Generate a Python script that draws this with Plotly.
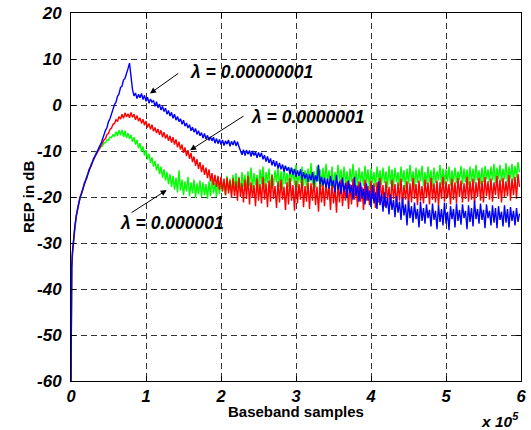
import numpy as np
import plotly.graph_objects as go

# Sample positions (x 10^5): fine grid for the initial rise, then a regular grid
x_early = [0, 0, 0.01, 0.02, 0.03, 0.05, 0.07, 0.09, 0.12, 0.15, 0.18, 0.21, 0.24, 0.27, 0.30, 0.34]
x_main = list(np.round(np.arange(0.38, 5.99, 0.02), 2))
x_vals = x_early + x_main

# REP in dB
rep_1e8 = [  # blue, lambda = 0.00000001
    -60, -40, -35, -32, -30, -26.5, -24.2, -22.3, -20.2, -18.6, -17.0, -15.7, -14.3, -13.0, -11.8, -10.4,
    -9.0, -8.4, -7.3, -6.7, -5.5, -4.9, -3.6, -3.0, -1.8, -1.2,
    0.1, 0.6, 1.9, 2.4, 3.8, 4.1, 5.4, 5.8, 7.2, 7.9,
    9.1, 5.6, 3.4, 2.0, 2.6, 1.4, 2.3, 1.6, 2.5, 1.2,
    2.1, 0.8, 1.7, 0.4, 1.3, 0.6, 1.0, -0.3, 0.7, -0.6,
    0.2, -1.1, -0.3, -1.4, -0.7, -2.0, -1.2, -2.4, -1.6, -2.9,
    -2.0, -3.3, -2.5, -3.6, -3.0, -4.2, -3.3, -4.6, -3.9, -5.0,
    -4.3, -5.6, -4.8, -5.9, -5.1, -6.4, -5.6, -6.7, -6.0, -7.2,
    -6.2, -7.4, -6.6, -7.7, -6.9, -7.8, -7.0, -8.3, -7.3, -8.4,
    -7.5, -8.6, -7.6, -8.8, -7.8, -8.5, -7.6, -9.0, -7.9, -8.7,
    -7.7, -8.9, -8.0, -9.1, -9.9, -10.8, -9.7, -11.0, -9.8, -10.7,
    -9.9, -11.2, -10.0, -11.0, -10.2, -11.5, -10.3, -11.3, -10.4, -11.8,
    -10.9, -12.3, -11.2, -12.6, -11.6, -13.1, -12.0, -13.4, -12.2, -13.8,
    -12.6, -14.0, -12.9, -14.5, -13.2, -14.3, -13.5, -15.0, -13.6, -15.2,
    -13.9, -15.6, -14.2, -15.4, -14.0, -16.2, -14.6, -16.0, -14.9, -16.7,
    -15.1, -16.4, -14.6, -17.0, -15.3, -16.6, -13.0, -17.2, -15.6, -17.5,
    -15.8, -17.9, -16.0, -18.2, -15.4, -17.6, -16.4, -19.0, -15.2, -18.4,
    -16.6, -19.4, -15.8, -18.8, -17.0, -20.2, -16.4, -19.2, -17.4, -20.6,
    -15.6, -19.8, -17.6, -21.0, -16.8, -20.4, -18.2, -21.6, -17.0, -20.8,
    -18.6, -22.2, -17.4, -21.4, -19.0, -22.6, -16.6, -21.8, -19.4, -23.2,
    -19.0, -22.4, -20.2, -23.8, -19.4, -22.8, -20.6, -24.4, -19.8, -23.4,
    -21.0, -25.0, -20.2, -24.0, -21.6, -26.2, -20.8, -24.6, -22.0, -25.6,
    -21.2, -24.8, -22.6, -26.6, -21.0, -25.2, -22.4, -25.8, -21.6, -24.6,
    -22.8, -26.4, -21.4, -25.0, -23.0, -27.0, -21.8, -25.4, -22.6, -26.2,
    -21.2, -25.8, -23.2, -27.2, -22.0, -24.8, -22.6, -26.6, -21.4, -25.2,
    -22.8, -26.0, -21.6, -24.6, -23.0, -27.0, -21.8, -25.4, -22.4, -26.4,
    -20.8, -24.8, -22.6, -25.8, -21.4, -25.0, -22.8, -26.8, -21.6, -24.6,
    -23.0, -26.2, -21.8, -25.6, -22.4, -26.8, -22.0, -25.0, -23.2, -26.4,
    -21.8, -25.6, -22.6, -26.6, -22.2, -25.2, -23.0, -26.2, -22.4, -25.4,
    -23.6,
]
rep_1e7 = [  # red, lambda = 0.0000001
    -60, -40, -35.3, -32.2, -29.8, -26.8, -24.0, -22.6, -20.0, -18.9, -16.8, -16.0, -14.0, -13.3, -11.6, -10.7,
    -9.4, -8.7, -8.4, -7.6, -7.3, -6.4, -6.2, -5.3, -5.0, -4.2,
    -4.0, -3.2, -3.6, -2.5, -3.1, -2.0, -2.9, -1.7, -2.6, -1.9,
    -2.8, -1.6, -2.7, -2.0, -3.2, -2.3, -3.5, -2.8, -4.0, -3.1,
    -4.4, -3.5, -4.9, -4.0, -5.3, -4.3, -5.7, -4.9, -6.1, -5.2,
    -6.5, -5.5, -7.0, -5.9, -7.3, -6.4, -7.8, -6.7, -8.2, -7.0,
    -8.6, -7.5, -9.2, -8.0, -9.7, -8.6, -10.4, -9.2, -11.1, -9.8,
    -11.7, -10.4, -12.4, -11.2, -13.2, -11.8, -13.9, -12.4, -14.6, -13.0,
    -15.2, -13.6, -15.9, -14.0, -16.6, -14.8, -17.4, -15.2, -17.8, -15.4,
    -18.4, -15.6, -18.8, -16.0, -19.6, -15.8, -19.2, -16.4, -20.2, -16.0,
    -19.8, -16.6, -20.8, -15.8, -20.0, -17.0, -21.2, -16.2, -20.4, -15.4,
    -21.6, -16.8, -20.2, -17.4, -22.0, -16.0, -20.8, -17.2, -21.4, -15.6,
    -20.6, -17.0, -22.2, -16.4, -21.0, -15.2, -20.4, -17.6, -22.4, -16.6,
    -21.2, -16.2, -20.6, -17.8, -22.8, -16.8, -21.6, -15.8, -20.8, -17.4,
    -23.0, -16.4, -21.4, -17.2, -20.6, -16.0, -22.2, -17.6, -21.0, -16.8,
    -22.6, -17.0, -20.8, -16.2, -21.8, -17.8, -23.2, -16.6, -21.2, -17.4,
    -22.0, -16.8, -20.6, -17.6, -22.8, -16.4, -21.4, -18.0, -23.4, -17.0,
    -21.2, -16.2, -22.0, -17.8, -20.8, -16.6, -22.6, -17.2, -21.6, -16.0,
    -20.6, -17.4, -22.2, -16.6, -21.0, -17.8, -22.8, -16.2, -20.8, -17.6,
    -21.8, -16.4, -20.4, -17.0, -22.4, -16.8, -21.2, -15.8, -20.6, -17.4,
    -22.0, -16.6, -21.0, -17.8, -21.8, -16.2, -20.4, -17.2, -22.2, -16.8,
    -20.8, -16.0, -21.6, -17.4, -20.6, -16.6, -22.0, -17.0, -21.2, -15.8,
    -20.4, -17.2, -21.8, -16.4, -20.8, -17.6, -21.4, -16.2, -20.2, -16.8,
    -21.6, -15.8, -20.6, -17.0, -21.2, -16.4, -22.0, -16.8, -20.4, -15.6,
    -21.0, -16.6, -20.2, -17.2, -21.6, -16.0, -20.6, -16.8, -21.4, -15.8,
    -20.0, -16.4, -21.2, -17.0, -20.4, -15.6, -21.0, -16.6, -20.6, -16.0,
    -21.4, -16.8, -20.0, -15.8, -20.8, -16.4, -21.2, -15.6, -19.8, -16.6,
    -20.6, -16.0, -21.0, -16.8, -19.6, -15.4, -20.4, -16.2, -21.2, -15.8,
    -20.0, -16.6, -19.8, -15.2, -20.8, -16.0, -19.6, -15.6, -20.4, -15.0,
    -17.8,
]
rep_1e6 = [  # green, lambda = 0.000001
    -60, -40, -34.8, -31.8, -30.2, -26.3, -24.4, -22.1, -20.4, -18.4, -17.2, -15.5, -14.5, -12.8, -12.0, -10.2,
    -9.6, -9.1, -8.9, -8.2, -8.2, -7.6, -7.7, -7.0, -7.1, -6.4,
    -6.9, -5.8, -6.7, -5.5, -6.6, -5.4, -6.9, -5.6, -7.2, -6.1,
    -7.4, -6.5, -8.0, -7.0, -8.6, -7.6, -9.4, -8.3, -10.2, -9.0,
    -11.0, -9.8, -11.8, -10.6, -12.6, -11.4, -13.4, -12.2, -14.2, -12.8,
    -15.0, -13.4, -15.8, -14.0, -16.4, -14.6, -17.2, -15.0, -17.8, -15.4,
    -18.4, -15.8, -19.0, -14.2, -18.6, -16.2, -19.6, -16.6, -18.8, -15.6,
    -19.8, -16.8, -19.2, -16.2, -20.2, -17.0, -19.4, -16.4, -20.0, -16.8,
    -19.6, -17.2, -20.4, -16.6, -19.8, -16.0, -19.2, -17.0, -20.0, -16.4,
    -19.4, -15.8, -18.8, -16.6, -19.6, -15.4, -18.6, -16.0, -19.2, -15.2,
    -18.4, -14.8, -18.0, -15.6, -19.0, -14.6, -17.8, -15.2, -18.6, -14.4,
    -17.6, -13.6, -18.2, -14.8, -17.4, -15.2, -18.4, -14.0, -17.2, -13.4,
    -18.0, -14.6, -17.0, -13.8, -18.2, -15.0, -17.6, -14.2, -16.8, -13.6,
    -17.8, -14.4, -18.4, -13.2, -17.2, -14.8, -17.8, -13.6, -16.6, -14.0,
    -17.4, -13.0, -18.0, -14.6, -17.0, -13.4, -17.6, -14.2, -18.2, -13.8,
    -16.8, -12.6, -17.4, -14.4, -18.0, -13.2, -16.6, -14.0, -17.8, -13.6,
    -17.2, -12.8, -16.8, -14.2, -17.6, -13.4, -18.0, -14.6, -17.0, -13.0,
    -16.6, -14.0, -17.8, -13.4, -17.2, -14.4, -18.2, -13.8, -16.8, -12.8,
    -17.4, -14.2, -18.0, -13.6, -16.8, -14.4, -17.6, -13.2, -17.0, -14.0,
    -18.2, -13.8, -17.0, -14.6, -17.8, -13.4, -16.6, -14.2, -17.4, -13.6,
    -17.0, -14.4, -18.0, -13.2, -17.2, -14.0, -17.8, -13.6, -16.8, -14.6,
    -17.6, -13.4, -16.8, -14.2, -18.0, -13.8, -17.2, -13.0, -16.6, -14.4,
    -17.8, -13.6, -17.0, -14.0, -16.6, -13.2, -17.6, -14.6, -17.2, -13.4,
    -16.8, -14.2, -17.8, -13.6, -17.0, -14.4, -16.4, -13.0, -17.4, -13.8,
    -17.2, -14.0, -16.6, -13.4, -17.6, -14.2, -16.8, -13.6, -17.0, -14.4,
    -16.4, -13.2, -17.2, -13.8, -16.8, -14.0, -17.4, -13.4, -16.6, -13.8,
    -17.0, -13.0, -16.4, -14.2, -17.2, -13.6, -16.8, -13.2, -16.2, -14.0,
    -16.8, -13.4, -16.4, -12.8, -17.0, -13.6, -16.2, -13.0, -16.6, -13.8,
    -16.2, -12.6, -16.8, -13.4, -16.0, -12.8, -16.4, -13.2, -15.8, -12.4,
    -14.6,
]

x_ticks = [0, 1, 2, 3, 4, 5, 6]
y_ticks = [-60, -50, -40, -30, -20, -10, 0, 10, 20]

labels = ["λ = 0.00000001", "λ = 0.0000001", "λ = 0.000001"]
label_pos = [(2.41, 7.1), (3.15, -2.7), (1.35, -25.7)]
arrow_head = [(1.053, 2.5), (1.587, -9.85), (1.276, -18.5)]
arrow_tail = [(1.45, 7.1), (2.32, -2.2), (0.787, -23.6)]

FONT = "Liberation Sans, Arial, sans-serif"

fig = go.Figure()
for ys, col in [(rep_1e6, "#00FF00"), (rep_1e7, "#FF0000"), (rep_1e8, "#0000FF")]:
    fig.add_trace(go.Scatter(x=x_vals, y=ys, mode="lines",
                             line=dict(color=col, width=1.4), showlegend=False))

for txt, (tx, ty) in zip(labels, label_pos):
    fig.add_annotation(x=tx, y=ty, xref="x", yref="y", text="<b><i>" + txt + "</i></b>",
                       showarrow=False, font=dict(family=FONT, size=17.5, color="black"))
for (hx, hy), (sx, sy) in zip(arrow_head, arrow_tail):
    fig.add_annotation(x=hx, y=hy, ax=sx, ay=sy, xref="x", yref="y", axref="x", ayref="y",
                       text="", showarrow=True, arrowhead=2, arrowsize=1.2, arrowwidth=1,
                       arrowcolor="black")

# axis titles and exponent label
fig.add_annotation(x=0.5, y=-0.083, xref="paper", yref="paper", xanchor="center", yanchor="middle",
                   text="<b>Baseband samples</b>", showarrow=False,
                   font=dict(family=FONT, size=15, color="black"))
fig.add_annotation(x=-0.0956, y=0.5, xref="paper", yref="paper", xanchor="center", yanchor="middle",
                   text="<b>REP in dB</b>", textangle=-90, showarrow=False,
                   font=dict(family=FONT, size=15, color="black"))
fig.add_annotation(x=1.0, y=-0.138, xref="paper", yref="paper", xanchor="right", yanchor="bottom",
                   text="<b><i>x 10<sup>5</sup></i></b>", showarrow=False,
                   font=dict(family=FONT, size=15.5, color="black"))

axis_common = dict(showline=True, linecolor="black", linewidth=1, mirror="ticks",
                   ticks="inside", ticklen=5, tickcolor="black", automargin=False,
                   showgrid=True, gridcolor="#333333", gridwidth=1, griddash="6px,4px",
                   zeroline=False)

fig.update_xaxes(range=[0, 6], tickvals=x_ticks,
                 ticktext=["<b><i>%d</i></b>" % v for v in x_ticks], ticklabelstandoff=0,
                 tickfont=dict(family=FONT, size=16.5, color="black"),
                 **axis_common)
fig.update_yaxes(range=[-60, 20], tickvals=y_ticks,
                 ticktext=["<b><i>%d</i></b>" % v for v in y_ticks], ticklabelstandoff=5,
                 tickfont=dict(family=FONT, size=17, color="black"),
                 **axis_common)

fig.update_layout(width=531, height=430, margin=dict(l=71, r=10, t=13, b=49),
                  paper_bgcolor="white", plot_bgcolor="white",
                  font=dict(family=FONT))

fig.write_html("out.html", config={"displayModeBar": False},
               post_script="document.body.style.margin='0';")
